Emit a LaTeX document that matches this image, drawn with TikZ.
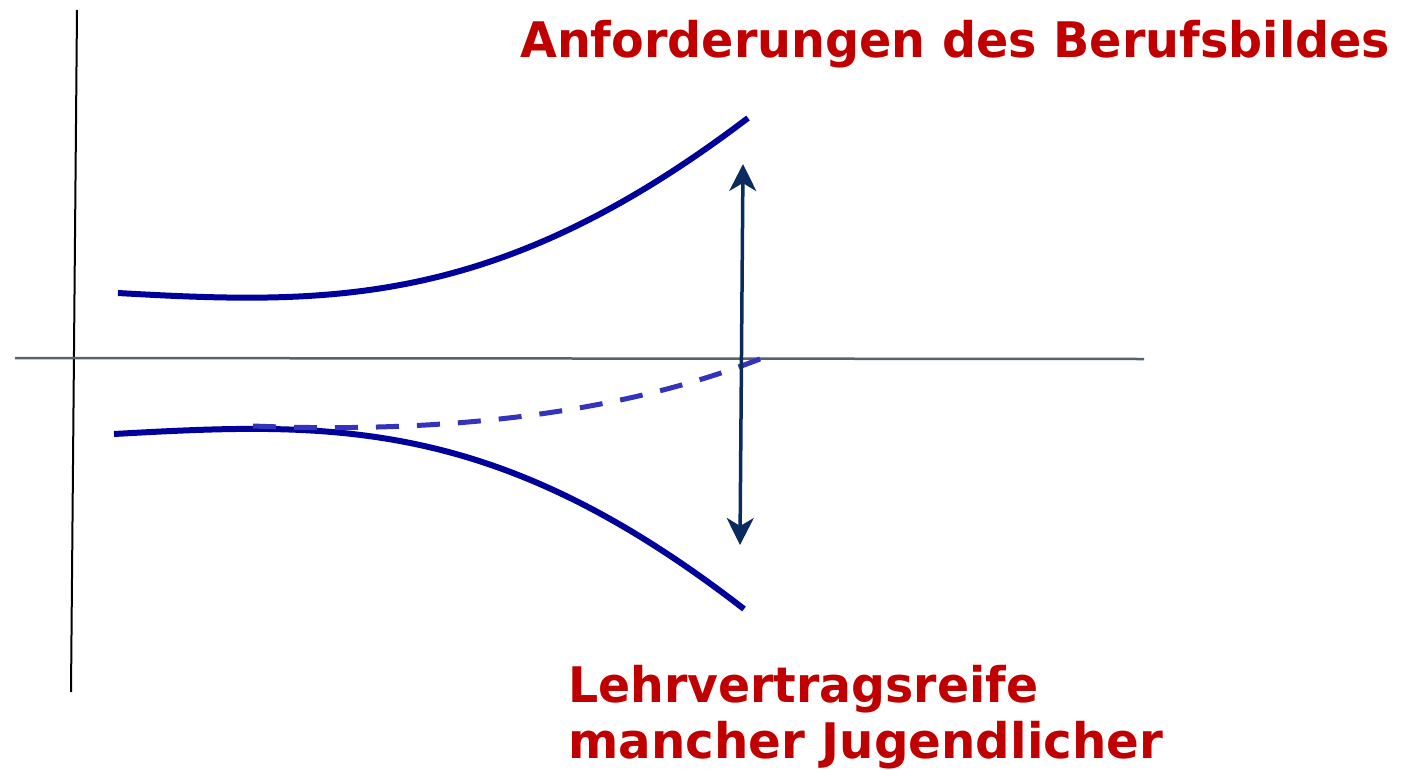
\documentclass[tikz,border=0pt]{standalone}
\usepackage{fontspec}
\usepackage{graphicx}
\setmainfont{DejaVu Sans}
\usetikzlibrary{arrows.meta}
\definecolor{curveblue}{HTML}{00009A}
\definecolor{dashblue}{HTML}{3333BB}
\definecolor{arrownavy}{HTML}{0A2A60}
\definecolor{axisgray}{HTML}{56636D}
\definecolor{labelred}{HTML}{C00000}
\newcommand\fitwidth[2]{\resizebox{#1}{\height}{#2}}
\tikzset{
  curve/.style={line width=6pt, curveblue},
  dashcurve/.style={line width=5pt, dashblue, dash pattern=on 23pt off 18pt},
  axisline/.style={line width=2pt, black},
  haxis/.style={line width=2.5pt, axisgray},
  doublearrow/.style={line width=3.5pt, arrownavy, {Stealth[length=27pt,width=27pt,inset=8pt]}-{Stealth[length=27pt,width=27pt,inset=8pt]}},
  label/.style={font=\fontsize{49}{56}\selectfont\bfseries, text=labelred, inner sep=0pt}
}
\begin{document}
\begin{tikzpicture}[x=1pt,y=-1pt]
\useasboundingbox (0,0) rectangle (1401,769);
% axes
\coordinate (vtop) at (77,10);
\coordinate (vbot) at (71,692);
\coordinate (hleft) at (15,358);
\coordinate (hright) at (1144,359);
\draw[axisline] (vtop) -- (vbot);
\draw[haxis] (hleft) -- (hright);
% upper curve
\coordinate (uA) at (118,293);
\coordinate (uB) at (748,118);
\draw[curve] (uA) .. controls (330,305) and (498,308) .. (uB);
% lower curve
\coordinate (lA) at (114,434);
\coordinate (lB) at (744,609);
\draw[curve] (lA) .. controls (330,422) and (494,415) .. (lB);
% dashed curve
\coordinate (dA) at (253,426);
\coordinate (dB) at (770,355);
\draw[dashcurve] (dA) .. controls (400,432) and (600,424) .. (dB);
% arrow
\coordinate (atop) at (743,164);
\coordinate (abot) at (740,545);
\draw[doublearrow] (abot) -- (atop);
% labels
\node[label, anchor=base west] (lbltop) at (520,57) {\fitwidth{870pt}{Anforderungen des Berufsbildes}};
\node[label, anchor=base west] (lblbotA) at (568,702) {\fitwidth{470pt}{Lehrvertragsreife}};
\node[label, anchor=base west] (lblbotB) at (568,758) {\fitwidth{595pt}{mancher Jugendlicher}};
\end{tikzpicture}
\end{document}
